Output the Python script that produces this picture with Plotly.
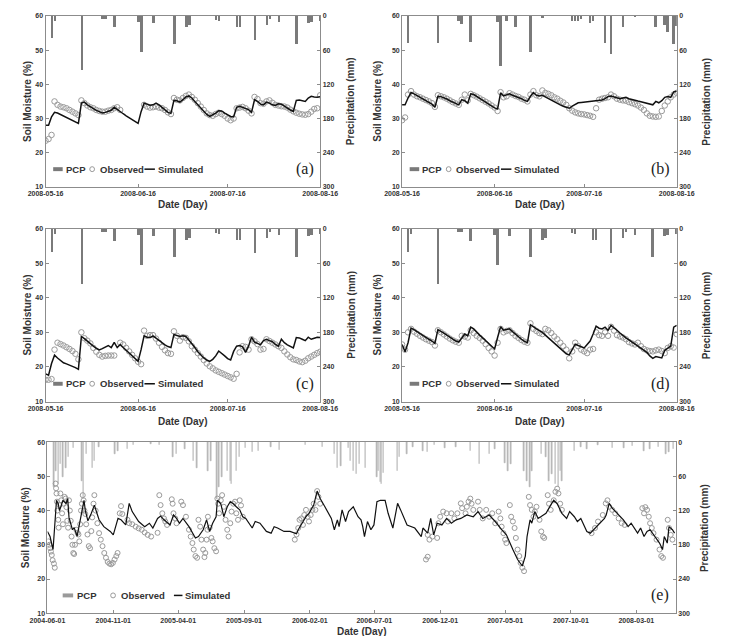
import plotly.graph_objects as go
import pandas as pd

W, H = 730, 636

# ---------------- data: panels (a)-(d), daily from 2008-05-16 ----------------
short_start = "2008-05-16"
short_ticks = ["2008-05-16", "2008-06-16", "2008-07-16", "2008-08-16"]

sim_a = [28,28,30.5,31.8,31.6,31.2,30.8,30.4,30,29.6,29.2,28.6,34.5,34.8,34,33.4,32.9,32.4,32,31.6,31.8,32.2,32.4,33.3,
         32.6,32,31.4,30.8,30.2,29.6,29,28.6,32,34.5,34.2,33.9,34,34.5,34,33.2,32.5,31.8,31.5,35.3,35.2,34.8,35.5,36.3,
         36.6,36,35,34,33,32,31.2,30.6,31,31.6,32.3,32.2,31.6,31,30.6,30.5,33.3,33.6,33.2,33,32.6,31.8,35.5,35,
         34.2,34,34.8,34.5,34,33.8,34.3,34.2,33.6,33,32.5,32.1,35.3,35.4,35.1,35,36,36.5,36.3,36.2,36.4]
obs_a = [23.5,24,25.2,35,34,33.5,33.3,33,32.5,32,31.5,31,35.3,34.5,33.8,33.3,33,32.5,32.2,32,32,32.3,32.5,33,33.3,32.5,
         None,None,None,None,None,None,None,34,33.5,33.2,33.3,33.5,33.2,33,32.5,31.8,31.3,36,35.5,35.3,36,36.6,37,36.3,
         35.5,34.5,33.5,32.5,31.5,31,30.8,31.3,31.7,31.3,30.8,30,29.5,30,33,33.2,33.4,33,32.3,31.5,36.3,35.7,34.5,34.3,
         35,35.3,34.6,34,33.8,33.6,33.5,33.2,32.6,32.1,31.7,31.4,31.2,31.1,31.3,32,32.8,33,36.8]

sim_b = [34,34,36,37.6,37.2,36.7,36.2,35.7,35.2,34.7,34.2,33.3,36.5,36.4,36.1,35.7,35.2,34.8,34.3,34,35.5,35.2,34.5,37.2,
         37,36.5,36,35.4,34.8,34.2,33.6,33.1,32.8,37.5,36.6,36.8,37.2,36.8,36.5,36.2,35.8,35.3,35,36.5,37.6,36.8,36.6,
         36.8,36.3,35.8,35.3,34.8,34.4,34,33.6,33.2,33,33.6,34.2,34.6,34.7,34.8,35,35,35.2,35.4,35.5,35.4,35.8,36.4,
         36.6,36.3,36,35.8,36,36.2,35.8,35.5,35.3,35.1,34.9,34.7,34.5,34.2,34,35,34.6,35.2,36.2,36.4,36.2,37.8,38]
obs_b = [29.5,30.3,37,38,37,36.5,36.2,35.8,35.4,35,34.5,33.4,36.8,36.5,36.2,35.8,35.3,34.8,34.4,34,35.5,37,35.3,37.2,
         36.8,36.4,35.9,35.4,34.9,34.4,33.8,33.2,32.2,37.7,36.2,36.5,37.4,37,36.6,36.3,35.8,35.5,35,37,38,36.8,36.5,
         38.2,37.5,37.2,36.8,36.2,35.8,35.2,34.7,34,33,32.3,31.8,31.5,31.3,31.2,31,30.8,30.5,33,35.5,35.8,36,36.2,37,
         36.5,35.8,35.5,35.3,35.2,34.8,34.5,34.2,33.8,33.2,32.5,31.5,30.8,30.6,30.5,30.6,32.2,33.8,35,36.2,37,37.5]

sim_c = [18,17.6,21,23.4,22.6,21.8,21.2,20.9,20.6,20.2,19.8,19.3,28.8,28.2,27.4,26.8,26,25.4,24.9,25.3,25.8,26.2,25.6,
         27.1,25.6,26.5,25.6,24.8,24,23.2,22.4,21.6,25,29,28.6,28.5,29,28.3,27.6,27,26.4,25.9,25.6,29.4,29,28.8,29,
         28.8,27.8,26.8,25.6,24.4,23.4,22.6,22,21.6,22.2,23.2,24.6,24,23.2,22.4,22,24.5,26,26.2,25.8,24.2,26,28.6,
         27.2,26.8,26.4,27.6,28,27.6,27.3,26.5,26,28,27,26.4,26,25.5,28.5,28.4,28,27.6,28.6,28,28.3,28.6,28.5]
obs_c = [16.3,16.3,16.5,25,27,26.6,26.2,25.7,25.2,24.6,23.8,22.2,30,28.3,27.6,26.8,25.5,24.4,23.5,23,23.2,23.3,23.3,
         23.3,None,27,26.5,25.5,24.5,23.5,22.5,21.5,20.8,30.5,29,29.2,29.2,28.2,27,25.8,24.8,24,23.8,30.3,29,27.6,
         28.6,28.4,27.4,26,25,24,23,22,21,20.2,19.6,19,18.6,18.2,17.8,17.4,17,16.6,18,24.2,26,25.8,25,28,27.4,26.6,
         25,25.2,28,27.5,27,26.5,26,25.5,24.5,23.6,22.8,22.2,22,21.6,21.4,21.8,22.5,23,23.5,24,24.4]

sim_d = [26.5,24.4,27,31.2,30.8,30.2,29.6,29,28.5,28,27.5,26.8,30.8,30.4,29.8,29.2,28.6,28,27.5,27.2,28.5,29.5,29,31.5,
         31,30,29.2,28.4,27.6,26.8,26,25.2,28.5,31.6,30.6,30.8,31,30.2,29.4,28.6,28,27.4,27,32.2,31.5,31,30.5,30,29.2,
         28.4,27.6,26.8,26,25.2,24.4,23.8,23.5,25,26.6,26.2,25.8,25.5,26.5,27.5,29.5,31.8,31.2,31,31.5,30.6,32,31.4,
         30.6,29.8,29,28.4,27.8,27.2,26.6,26,25.4,24.8,24.2,23.2,22.5,23,22.8,22.6,24.8,25.4,26,31.5,32]
obs_d = [26.5,25,30,31,30.2,29.6,29,28.5,28,27.6,27.2,26.2,30.6,30,29.4,28.8,28.2,27.7,27.3,27,29,28.8,28.5,30.6,29.8,
         29,28.4,27.6,26.6,25.5,24.5,23.3,27,31,30,30.4,30.6,29.8,29,28.4,27.8,27.3,27,32.6,31,30.4,29.8,29.5,31,30.6,
         29.8,28.8,28,27,26,25,22.5,24.5,27,26,25,24.5,24,25,25.2,30,29.2,29,30,29,31.6,30.5,29.2,28.8,28.5,28,27.2,
         26.8,26.5,27,26,25.2,24.8,24.6,24.5,24.8,25,24.6,24,25.5,26,25.6,29.5]

# precipitation (day offset, mm)
pcp_acd_day = [2,3,12,19,20,23,31,32,36,43,47,48,57,58,64,65,70,74,75,78,84,88,89,92]
pcp_acd_mm  = [39,9,95,5,6,20,10,63,12,49,19,15,7,9,19,19,42,15,5,10,49,12,10,8]
pcp_b_day = [2,12,19,20,23,32,33,35,38,43,47,57,58,59,60,63,64,68,70,74,78,85,88,89,91,92]
pcp_b_mm  = [48,48,8,14,46,10,87,8,19,63,3,8,9,8,6,12,8,48,67,19,1,19,15,28,49,17]

# ---------------- data: panel (e), day offsets from 2004-06-01 ----------------
long_start = "2004-06-01"
long_ticks = ["2004-06-01","2004-11-01","2005-04-01","2005-09-01","2006-02-01",
              "2006-07-01","2006-12-01","2007-05-01","2007-10-01","2008-03-01"]

sim_e = [(0,33.9),(6,32.4),(13,28.6),(21,43),(25,42),(28,40),(36,43),(43,42),(47,43.5),(50,38),(58,34.4),(62,35),
         (69,32.5),(76,37),(80,40.2),(85,43),(88,40),(94,37),(102,39.2),(109,41.6),(115,39.2),(120,37.3),(131,35.3),
         (146,33.9),(153,32.9),(164,37.7),(171,37.3),(182,35.8),(190,42.1),(197,39.7),(212,36.8),(226,35.3),(237,36.3),
         (245,34.9),(256,37.7),(263,38.4),(271,37.3),(285,35.8),(293,38.7),(300,37.7),(307,36.3),(315,37.7),(329,35.3),
         (344,32),(351,32.4),(362,34.4),(370,37.3),(377,33.9),(384,36.3),(392,38.2),(395,43),(403,42),(410,38.2),
         (418,41.1),(425,42.6),(432,42),(439,41.1),(447,40.2),(454,38.2),(461,37.7),(476,34.9),(483,36.8),(494,36.3),
         (509,33.9),(520,33.4),(527,35.3),(535,34.9),(550,33.9),(564,33.9),(579,33.2),(583,34.4),(594,36.8),(601,38.2),
         (608,39.2),(619,41.6),(627,45.7),(634,43.5),(645,41.1),(660,37.7),(667,34.4),(674,37.3),(678,35.3),(685,40.2),
         (693,36.8),(700,39.7),(711,41.1),(722,38.2),(729,37.3),(733,35.3),(737,32.4),(744,36.8),(752,34.4),(759,35.8),
         (766,42.6),(774,43),(785,43),(792,39.2),(803,34.9),(814,42.1),(821,40.2),(836,35.8),(854,34.9),(869,32.4),
         (873,34.9),(884,33.4),(891,37.7),(898,32.9),(906,36.3),(917,35.8),(928,37.7),(939,36.3),(950,37.3),(961,37.7),
         (975,38.7),(990,38.2),(1001,39.7),(1012,37.7),(1027,38.7),(1041,36.8),(1056,34.4),(1067,32.9),(1082,28.6),
         (1093,25.7),(1104,23.8),(1111,26.7),(1115,32.4),(1122,37.3),(1126,36.3),(1133,39.7),(1141,37.7),(1159,39.2),
         (1170,41.6),(1177,43),(1185,42),(1196,39.2),(1207,37.7),(1214,39.7),(1225,38.2),(1232,36.8),(1240,37.7),
         (1254,33.9),(1262,33.4),(1273,34.9),(1284,36.3),(1295,37.7),(1299,38.7),(1306,42.1),(1313,40.7),(1324,39.2),
         (1339,37.3),(1350,35.3),(1357,36.3),(1372,33.4),(1379,34.9),(1387,32.4),(1394,33.9),(1401,34.4),(1412,32.4),
         (1423,30.5),(1430,28.6),(1434,32.4),(1441,30.5),(1445,35.3),(1453,34.4),(1458,33.4)]

obs_e = [(2,31),(4,30),(6,29),(8,28),(10,27),(12,25.5),(15,24.5),(17,23.3),(19,47.9),(20,46.5),(21,45),(22,42.6),
         (23,40),(25,37.3),(26,35),(28,41.6),(30,45),(32,43),(34,39.2),(36,36),(38,42),(40,44),(42,43.5),(44,41),
         (46,37),(48,35),(50,43),(52,40),(54,37),(56,32.4),(58,30),(60,27.6),(62,27.3),(64,30),(67,34.4),(70,33.5),
         (72,33),(74,31),(76,36),(78,40),(80,42),(82,44.5),(84,43),(86,40),(88,39),(90,36),(93,33),(96,29.6),(99,29),
         (102,34),(104,38),(107,42),(109,44.5),(112,40),(116,36.3),(120,33.4),(124,31.5),(128,29.6),(132,27.6),
         (136,26.2),(140,25),(144,24.5),(148,24.3),(152,24.7),(156,25.7),(160,26.7),(163,27.6),(168,39.2),(171,41.3),
         (174,39),(186,37.3),(190,36.3),(197,36),(205,35.3),(212,34.8),(219,34.4),(226,33.6),(233,32.9),(241,32.4),
         (256,33.5),(260,44.5),(263,41.6),(267,39.2),(271,37.7),(274,36.8),(278,35.8),(289,43.3),(291,42),(293,39.2),
         (297,37.7),(300,36.3),(311,42.6),(315,41.6),(322,38.2),(329,34.4),(333,32.4),(337,30.5),(340,28.6),(344,26.7),
         (348,26.2),(351,37.3),(355,35.3),(358,31.5),(362,28.6),(365,26.4),(367,27.6),(370,31.5),(372,34.4),(373,38.2),
         (377,35),(381,32),(384,31),(388,29),(392,28.1),(395,43.5),(397,42),(399,39.2),(403,43),(406,44.5),(410,41.1),
         (414,37.3),(418,34.4),(421,32.4),(425,36.3),(428,39.7),(432,42),(436,42.6),(439,39.2),(443,37.3),(447,43),
         (450,41.5),(454,38.2),(575,31.5),(579,33),(583,34.9),(586,37.3),(590,37.7),(594,35.8),(597,38.7),(601,40.2),
         (605,38.2),(608,36.8),(612,38.7),(616,40.2),(619,42),(623,40.2),(627,45.7),(630,44),(634,42),(880,25.7),
         (884,26.5),(884,32.9),(888,31.5),(895,32.4),(906,32),(909,36.3),(913,38.2),(920,39.7),(928,39.2),(931,36.8),
         (939,39.2),(946,37.7),(953,39.2),(961,42.1),(964,40.7),(972,39.2),(975,41.1),(979,42.6),(983,43.5),(986,42),
         (990,40.2),(1001,42.6),(1005,40.2),(1012,37.7),(1020,40.2),(1027,38.2),(1034,39.2),(1041,36.3),(1049,39.7),
         (1053,37.7),(1056,35.3),(1060,33.4),(1064,31.5),(1067,30.5),(1075,41.6),(1078,38.2),(1082,36.8),(1086,34.9),
         (1089,32),(1093,28.6),(1097,26.7),(1100,24.7),(1104,23.3),(1108,22.3),(1119,44),(1122,41.6),(1126,40.2),
         (1130,38.2),(1133,39.7),(1137,41.1),(1144,37.3),(1148,33.9),(1152,32.4),(1155,32),(1163,44.5),(1166,42),
         (1170,40.2),(1177,43),(1181,45.5),(1185,46.4),(1188,45),(1192,42),(1196,40.2),(1265,33.4),(1273,34.9),
         (1280,36.8),(1291,38.7),(1298,42.1),(1302,43),(1306,41.1),(1313,40.2),(1320,39.2),(1328,37.7),(1335,36.3),
         (1342,35.8),(1383,40.7),(1387,39.2),(1390,41),(1394,40.2),(1398,38.2),(1401,36.3),(1405,34.9),(1409,33.4),
         (1416,31.5),(1423,28.6),(1427,26.7),(1431,26.2),(1442,37.3),(1445,34.9),(1449,32.9),(1453,31.5)]

pcp_e = [(15,79),(20,50),(25,73),(30,39),(36,62),(43,45),(49,27),(60,10),(80,68),(83,100),(91,21),(105,45),(109,33),
         (120,8),(157,21),(164,16),(186,13),(200,6),(241,4),(260,5),(292,27),(300,21),(320,12),(340,33),(348,45),
         (373,50),(380,33),(394,100),(399,79),(406,62),(418,50),(425,68),(428,73),(439,50),(447,27),(460,10),(476,18),
         (491,15),(520,8),(540,14),(600,6),(640,8),(667,21),(674,45),(682,42),(700,10),(704,33),(711,50),(718,56),
         (726,39),(740,45),(766,62),(770,50),(774,70),(777,73),(781,55),(814,50),(818,27),(836,21),(850,8),(873,15),
         (884,18),(900,6),(924,10),(950,9),(983,16),(1005,39),(1027,21),(1040,12),(1064,36),(1071,50),(1078,39),
         (1108,50),(1115,68),(1122,79),(1126,50),(1148,21),(1159,27),(1166,68),(1173,56),(1181,73),(1188,79),
         (1192,50),(1196,68),(1225,16),(1240,8),(1254,13),(1280,6),(1313,10),(1340,10),(1360,7),(1387,16),(1401,13),
         (1420,9),(1438,21),(1445,18),(1455,12)]

# ---------------- helpers ----------------
def px_x(p):
    return p / W

def px_y(p):
    return 1 - p / H

def short_dates(n):
    return pd.date_range(short_start, periods=n, freq="D")

def offs(start, days):
    return pd.Timestamp(start) + pd.to_timedelta(days, unit="D")

DAY_MS = 86400000
AX = "#8c8c8c"
TXT = "#333333"

panels = [
    dict(key="a", x0=29, x1=318, y0=12, y1=185, long=False,
         sim_x=short_dates(len(sim_a)), sim_y=sim_a, obs_x=short_dates(len(obs_a)), obs_y=obs_a,
         p_x=offs(short_start, pcp_acd_day), p_y=pcp_acd_mm, lt=10, rt=350, dy=203),
    dict(key="b", x0=404, x1=693, y0=12, y1=185, long=False,
         sim_x=short_dates(len(sim_b)), sim_y=sim_b, obs_x=short_dates(len(obs_b)), obs_y=obs_b,
         p_x=offs(short_start, pcp_b_day), p_y=pcp_b_mm, lt=378, rt=724, dy=203),
    dict(key="c", x0=29, x1=318, y0=227, y1=402, long=False,
         sim_x=short_dates(len(sim_c)), sim_y=sim_c, obs_x=short_dates(len(obs_c)), obs_y=obs_c,
         p_x=offs(short_start, pcp_acd_day), p_y=pcp_acd_mm, lt=10, rt=350, dy=422),
    dict(key="d", x0=404, x1=693, y0=227, y1=402, long=False,
         sim_x=short_dates(len(sim_d)), sim_y=sim_d, obs_x=short_dates(len(obs_d)), obs_y=obs_d,
         p_x=offs(short_start, pcp_acd_day), p_y=pcp_acd_mm, lt=378, rt=724, dy=422),
    dict(key="e", x0=31, x1=692, y0=443, y1=616, long=True,
         sim_x=offs(long_start, [d for d, _ in sim_e]), sim_y=[v for _, v in sim_e],
         obs_x=offs(long_start, [d for d, _ in obs_e]), obs_y=[v for _, v in obs_e],
         p_x=offs(long_start, [d for d, _ in pcp_e]), p_y=[v for _, v in pcp_e], lt=8, rt=722, dy=634),
]

fig = go.Figure()
layout = dict(width=W, height=H, autosize=False, margin=dict(l=0, r=0, t=0, b=0, pad=0),
              paper_bgcolor="white", plot_bgcolor="white", showlegend=False,
              font=dict(family="Liberation Sans, Arial", color=TXT))
annotations = []
shapes = []

tickfont = dict(family="Liberation Sans, Arial", size=7, color=TXT, weight="bold")

for i, p in enumerate(panels, start=1):
    xs = "" if i == 1 else str(i)
    yp = str(2 * i - 1) if (2 * i - 1) > 1 else ""
    ys = str(2 * i)
    xname, ypname, ysname = "x" + xs, "y" + yp, "y" + ys

    if p["long"]:
        bar_w, bar_col, bar_line = DAY_MS * 0.9, "#b4b4b4", 0.7
        msize, sw = 5, 1.2
        xr = ["2004-06-01", "2008-06-01"]
        tv = long_ticks
    else:
        bar_w, bar_col, bar_line = DAY_MS * 0.85, "#7a7a7a", 0
        msize, sw = 5.5, 1.5
        xr = ["2008-05-16", "2008-08-16 01:00"]
        tv = short_ticks

    fig.add_trace(go.Bar(x=p["p_x"], y=p["p_y"], width=bar_w, base=0,
                         marker=dict(color=bar_col, line=dict(color=bar_col, width=bar_line)),
                         name="PCP", xaxis=xname, yaxis=ypname))
    fig.add_trace(go.Scatter(x=p["obs_x"], y=p["obs_y"], mode="markers", name="Observed",
                             marker=dict(symbol="circle-open", size=msize, color="#9a9a9a",
                                         line=dict(width=1, color="#9a9a9a")),
                             xaxis=xname, yaxis=ysname))
    fig.add_trace(go.Scatter(x=p["sim_x"], y=p["sim_y"], mode="lines", name="Simulated",
                             line=dict(color="#111111", width=sw),
                             xaxis=xname, yaxis=ysname))

    xdom = [px_x(p["x0"]), px_x(p["x1"])]
    ydom = [px_y(p["y1"]), px_y(p["y0"])]
    layout["xaxis" + xs] = dict(domain=xdom, anchor=ypname, type="date", range=xr,
                                tickmode="array", tickvals=tv, ticktext=tv, tickfont=tickfont,
                                showline=True, linecolor=AX, linewidth=1, mirror=True,
                                ticks="inside", ticklen=3, tickcolor=AX, showgrid=False, zeroline=False)
    layout["yaxis" + yp] = dict(domain=ydom, anchor=xname, side="right", range=[300, 0],
                                tickmode="array", tickvals=[0, 60, 120, 180, 240, 300], tickfont=tickfont,
                                showline=True, linecolor=AX, linewidth=1, ticks="inside", ticklen=3,
                                tickcolor=AX, showgrid=False, zeroline=False)
    layout["yaxis" + ys] = dict(overlaying=ypname, anchor=xname, side="left", range=[10, 60],
                                tickmode="array", tickvals=[10, 20, 30, 40, 50, 60], tickfont=tickfont,
                                showline=True, linecolor=AX, linewidth=1, ticks="inside", ticklen=3,
                                tickcolor=AX, showgrid=False, zeroline=False)

    ymid = (p["y0"] + p["y1"]) / 2
    tfont = dict(family="Liberation Sans, Arial", size=10, color=TXT, weight="bold")
    annotations.append(dict(text="Soil Moisture (%)", x=px_x(p["lt"]), y=px_y(ymid), xref="paper", yref="paper",
                            textangle=-90, showarrow=False, font=tfont, xanchor="center", yanchor="middle"))
    annotations.append(dict(text="Precipitation (mm)", x=px_x(p["rt"]), y=px_y(ymid), xref="paper", yref="paper",
                            textangle=-90, showarrow=False, font=tfont, xanchor="center", yanchor="middle"))
    annotations.append(dict(text="Date (Day)", x=px_x((p["x0"] + p["x1"]) / 2), y=px_y(p["dy"]),
                            xref="paper", yref="paper", showarrow=False, font=tfont,
                            xanchor="center", yanchor="middle"))
    # panel letter
    annotations.append(dict(text="(" + p["key"] + ")", x=px_x(p["x1"] - 5), y=px_y(p["y1"] - 18),
                            xref="paper", yref="paper", showarrow=False, xanchor="right", yanchor="middle",
                            font=dict(family="Liberation Serif, Times New Roman", size=16, color="#222222")))

    # in-plot legend
    ly = p["y1"] - 18
    x0 = p["x0"]
    if p["long"]:
        o = dict(b0=16, b1=27, t1=29, c=69, t2=75, l0=133, l1=142, t3=143)
        lbar = "#9a9a9a"
    else:
        o = dict(b0=8, b1=18, t1=19, c=49, t2=55, l0=104, l1=115, t3=116)
        lbar = "#7a7a7a"
    lfont = dict(family="Liberation Sans, Arial", size=9.5, color=TXT, weight="bold")
    shapes.append(dict(type="rect", xref="paper", yref="paper", x0=px_x(x0 + o["b0"]), x1=px_x(x0 + o["b1"]),
                       y0=px_y(ly + 2), y1=px_y(ly - 2), fillcolor=lbar, line=dict(width=0)))
    shapes.append(dict(type="circle", xref="paper", yref="paper", x0=px_x(x0 + o["c"] - 2.5),
                       x1=px_x(x0 + o["c"] + 2.5), y0=px_y(ly + 2.5), y1=px_y(ly - 2.5),
                       line=dict(color="#9a9a9a", width=1)))
    shapes.append(dict(type="line", xref="paper", yref="paper", x0=px_x(x0 + o["l0"]), x1=px_x(x0 + o["l1"]),
                       y0=px_y(ly), y1=px_y(ly), line=dict(color="#111111", width=1.5)))
    for txt, key in (("PCP", "t1"), ("Observed", "t2"), ("Simulated", "t3")):
        annotations.append(dict(text=txt, x=px_x(x0 + o[key]), y=px_y(ly), xref="paper", yref="paper",
                                showarrow=False, xanchor="left", yanchor="middle", font=lfont))

layout["annotations"] = annotations
layout["shapes"] = shapes
layout["bargap"] = 0
fig.update_layout(**layout)
fig.write_html("out.html")
